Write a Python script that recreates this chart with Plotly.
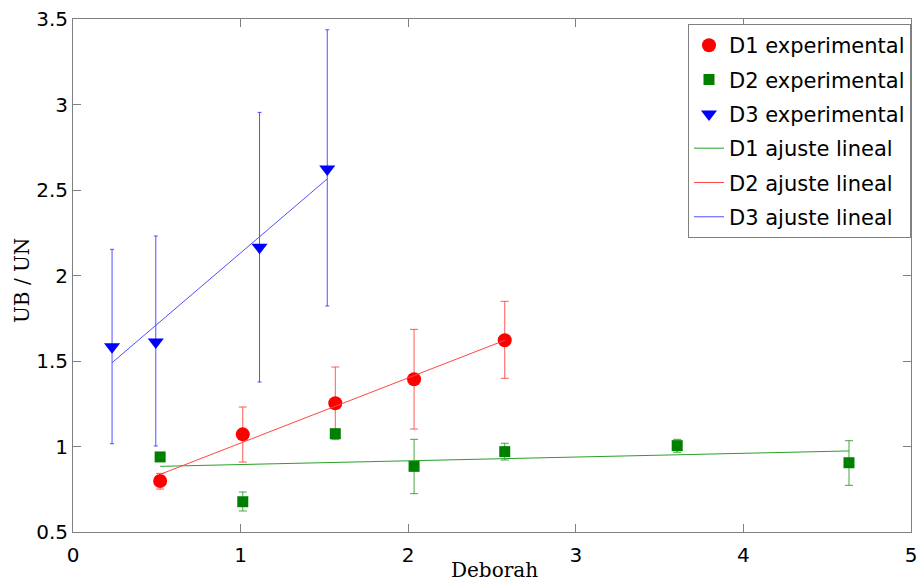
import plotly.graph_objects as go

# ---- data ----
d1_x = [0.52, 1.013, 1.565, 2.035, 2.576]
d1_y = [0.798, 1.071, 1.253, 1.393, 1.621]
d1_err_plus = [0.045, 0.160, 0.212, 0.292, 0.228]
d1_err_minus = [0.047, 0.162, 0.213, 0.291, 0.222]

d2_x = [0.52, 1.013, 1.565, 2.035, 2.576, 3.605, 4.63]
d2_y = [0.939, 0.677, 1.075, 0.884, 0.970, 1.005, 0.905]
d2_err_plus = [0.020, 0.057, 0.020, 0.158, 0.049, 0.037, 0.129]
d2_err_minus = [0.020, 0.054, 0.020, 0.160, 0.049, 0.039, 0.132]

d3_x = [0.233, 0.494, 1.113, 1.517]
d3_y = [1.583, 1.611, 2.165, 2.623]
d3_err_plus = [0.570, 0.620, 0.789, 0.814]
d3_err_minus = [0.567, 0.608, 0.788, 0.801]

fit_green_x = [0.52, 4.63]
fit_green_y = [0.884, 0.974]
fit_red_x = [0.52, 2.576]
fit_red_y = [0.837, 1.621]
fit_blue_x = [0.233, 1.517]
fit_blue_y = [1.490, 2.565]

x_ticks = [0, 1, 2, 3, 4, 5]
x_ticklabels = ["0", "1", "2", "3", "4", "5"]
y_ticks = [0.5, 1, 1.5, 2, 2.5, 3, 3.5]
y_ticklabels = ["0.5", "1", "1.5", "2", "2.5", "3", "3.5"]

names = ["D1 experimental", "D2 experimental", "D3 experimental",
         "D1 ajuste lineal", "D2 ajuste lineal", "D3 ajuste lineal"]

RED = "#ff0000"
GREEN = "#008000"
BLUE = "#0000ff"

fig = go.Figure()

fig.add_trace(go.Scatter(
    x=d1_x, y=d1_y, mode="markers", name=names[0], legendgroup="g1",
    marker=dict(symbol="circle", size=14, color=RED),
    error_y=dict(type="data", symmetric=False, array=d1_err_plus,
                 arrayminus=d1_err_minus, color="rgba(255,60,60,0.85)",
                 thickness=1, width=4)))

fig.add_trace(go.Scatter(
    x=d2_x, y=d2_y, mode="markers", name=names[1], legendgroup="g2",
    marker=dict(symbol="square", size=11, color=GREEN),
    error_y=dict(type="data", symmetric=False, array=d2_err_plus,
                 arrayminus=d2_err_minus, color="rgba(40,150,40,0.85)",
                 thickness=1, width=4)))

fig.add_trace(go.Scatter(
    x=d3_x, y=d3_y, mode="markers", name=names[2], legendgroup="g3",
    marker=dict(symbol="triangle-down", size=14, color=BLUE),
    error_y=dict(type="data", symmetric=False, array=d3_err_plus,
                 arrayminus=d3_err_minus, color="rgba(50,50,255,0.85)",
                 thickness=1, width=2)))

fig.add_trace(go.Scatter(
    x=fit_green_x, y=fit_green_y, mode="lines", name=names[3], legendgroup="g4",
    line=dict(color="rgb(40,160,40)", width=1)))
fig.add_trace(go.Scatter(
    x=fit_red_x, y=fit_red_y, mode="lines", name=names[4], legendgroup="g5",
    line=dict(color="rgb(255,70,70)", width=1)))
fig.add_trace(go.Scatter(
    x=fit_blue_x, y=fit_blue_y, mode="lines", name=names[5], legendgroup="g6",
    line=dict(color="rgb(80,80,255)", width=1)))

axis_common = dict(
    showline=True, linecolor="#808080", linewidth=1, mirror="ticks",
    ticks="inside", ticklen=8, tickcolor="#808080", tickwidth=1,
    showgrid=False, zeroline=False, automargin=False,
    tickfont=dict(family="DejaVu Sans", size=20, color="#000000"),
)

fig.update_layout(
    width=922, height=588,
    margin=dict(l=73, r=11, t=19, b=56, autoexpand=False),
    paper_bgcolor="white", plot_bgcolor="white",
    xaxis=dict(range=[0, 5], tickvals=x_ticks, ticktext=x_ticklabels,
               ticklabelstandoff=5, **axis_common),
    yaxis=dict(range=[0.5, 3.5], tickvals=y_ticks, ticktext=y_ticklabels,
               **axis_common),
    legend=dict(
        x=1, xanchor="right", y=0.99, yanchor="top",
        bgcolor="white", bordercolor="#808080", borderwidth=1,
        font=dict(family="DejaVu Sans", size=21, color="#000000"),
        traceorder="grouped", tracegroupgap=4,
    ),
    annotations=[
        dict(text="Deborah", xref="paper", yref="paper", x=0.503, y=-0.074,
             xanchor="center", yanchor="middle", showarrow=False,
             font=dict(family="DejaVu Serif", size=20, color="#000000")),
        dict(text="UB / UN", xref="paper", yref="paper", x=-0.061, y=0.491,
             xanchor="center", yanchor="middle", showarrow=False, textangle=-90,
             font=dict(family="DejaVu Serif", size=20, color="#000000")),
    ],
    showlegend=True,
)

fig.write_html("out.html")
